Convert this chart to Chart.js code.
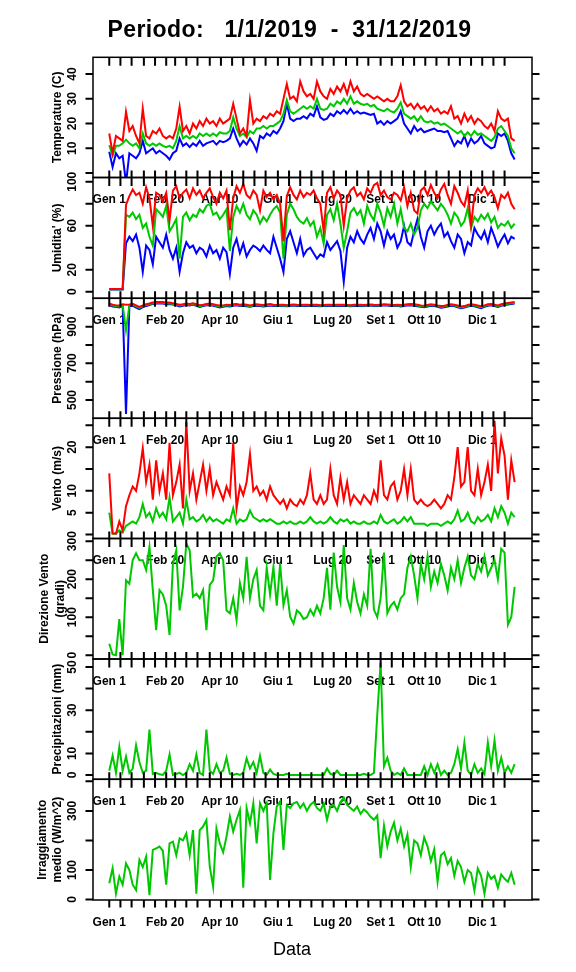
<!DOCTYPE html>
<html>
<head>
<meta charset="utf-8">
<script src="https://cdn.jsdelivr.net/npm/chart.js@4.4.1/dist/chart.umd.min.js"></script>
<style>
html,body{margin:0;padding:0;background:#fff;}
#page{position:relative;width:576px;height:972px;overflow:hidden;background:#fff;}
#page canvas{position:absolute;left:0;}
</style>
</head>
<body>
<div id="page"></div>
<script>
// ---- DATA (day offset from 1 Jan 2019, sampled every 3 days) ----
const days = [0,3,6,9,12,15,18,21,24,27,
30,33,36,39,42,45,48,51,54,57,
60,63,66,69,72,75,78,81,84,87,
90,93,96,99,102,105,108,111,114,117,
120,123,126,129,132,135,138,141,144,147,
150,153,156,159,162,165,168,171,174,177,
180,183,186,189,192,195,198,201,204,207,
210,213,216,219,222,225,228,231,234,237,
240,243,246,249,252,255,258,261,264,267,
270,273,276,279,282,285,288,291,294,297,
300,303,306,309,312,315,318,321,324,327,
330,333,336,339,342,345,348,351,354,357,
360,363];

const tempMax = [16,8,15,14,13,24.8,17,19,15,12,
26,15,14,17,16,18,15,14,15,14,
18,26.8,17,19,16,20,18,21,19,22,
20,21,19,22,20,21,22,28,22,16,
18,15,29.5,20,22,21,23,22,24,23,
25,24,30,36,30,31,29,37,33,31,
32,30,37,33,31,30,34,32,35,33,
36,32,37,33,35,32,31,32,31,30,
31,30,29,30,29,29,31,35.5,29,27,
28,26,28,26,27,25,27,25,26,24,
25,24,27,22,23,20,24,21,23,20,
22,21,19,18,20,17,25,22,21,22,
14,13];
const tempMean = [11.3,7,11,11,12,13.5,12,11,12,10,
16,12,11,12,11,12,11,10.5,11,10,
13,19,14,15,14,15,14,16,15,16,
15,16,15,16.5,16,16,17,22.5,18,15,
16,14.5,17,16,18,18,19,18,19,19,
20,21,24,29.5,25,24,25,26,27,26,
27,26,30,26,25.5,26,28,27,29,28,
30,28,31,28,29,28,27.5,28,27,27.5,
26,25.5,25,26,25,24.5,26,28.5,24,23,
22,23,21,23,21,20.5,21,20,20.5,19.5,
20,19,18,17,16,17,15,16.5,15,17,
15.5,16,15,14,13,14.5,18,19,17,15,
10,8];
const tempMin = [8.6,2.4,8,6,7,-4,8,7,6,8,
13,8,9,10,8,9,8,7,5.5,8,
9,14,11,12,10.5,12,11,13,11,12,
12.5,13,11.5,13,12.5,13,14,18,14,11,
13,11.5,14,12,9,15,14,16,15,17,
16,18,21,28,22,21,22,22,23,22,
24,23,27,22.5,21.5,22,24,23,25,24,
25.5,24,26,24,25,24,24.5,24,23.5,24,
20,21,19.5,21,20,21,22,25,20,18,
16,19,17,18,16.5,17,17.5,18,17,17,
16.5,17,14,11,13,12,15,11,14,12,
13,15,12,11,10,10.5,16,15,16,13,
8,5.5];

const humMax = [2.5,2.5,2.5,2.5,2.5,79,87,93,88,90,
80,95,85,60,90,88,82,90,65,92,
96,85,90,93,85,94,88,92,85,90,
94,86,80,90,85,92,56,85,96,90,
98,88,85,92,88,74,92,86,90,84,
88,80,46,87,95,88,84,92,86,90,
88,92,85,80,55,90,95,85,92,88,
60,85,92,95,87,90,84,94,90,97,
99,88,92,86,84,90,88,83,95,78,
90,74,71,92,95,88,97,90,85,93,
98,88,80,96,90,82,78,92,60,88,
94,90,95,88,92,86,76,88,85,90,
80,75];
const humMean = [2.2,2.2,2.2,2.2,2.2,70,68,72,66,70,
58,62,50,42,75,72,68,78,55,60,
66,30,68,72,65,70,68,75,72,78,
80,70,72,66,70,75,37,68,78,72,
80,70,66,74,70,62,68,64,70,75,
78,72,30,70,80,75,68,64,62,67,
60,64,50,58,44,70,75,65,80,62,
40,55,72,76,70,74,62,78,70,65,
80,72,60,76,68,80,62,75,58,55,
62,52,58,74,80,76,82,78,74,80,
76,70,62,72,68,60,64,76,58,68,
64,70,66,71,63,68,58,62,60,64,
58,62];
const humMin = [2,2,2,2,2,44,50,46,52,40,
18,42,38,25,50,45,40,52,38,30,
40,18,35,45,40,42,35,40,38,32,
42,35,38,30,40,36,16,40,48,35,
44,32,38,42,40,37,42,38,35,50,
40,30,18,48,55,45,35,48,33,38,
40,35,30,34,32,45,38,42,46,37,
9,40,50,45,55,48,44,52,58,48,
62,55,42,55,48,52,40,46,60,45,
42,55,66,50,40,55,60,52,58,62,
50,54,46,40,52,48,35,45,42,58,
52,48,55,45,58,50,41,47,52,44,
50,48];

const presMax = [1026,1020,1016,1015,1022,1020,1021,1024,1016,1008,
1016,1022,1026,1032,1034,1035,1034,1030,1032,1028,
1024,1020,1022,1026,1024,1028,1022,1017,1020,1024,
1026,1022,1018,1015,1016,1020,1018,1022,1024,1020,
1022,1019,1016,1020,1022,1020,1018,1021,1023,1020,
1018,1020,1019,1017,1019,1021,1019,1018,1020,1019,
1018,1020,1019,1017,1018,1020,1019,1018,1019,1020,
1019,1018,1017,1019,1020,1019,1018,1020,1021,1019,
1018,1020,1022,1021,1019,1018,1020,1018,1019,1022,
1024,1022,1019,1016,1014,1018,1022,1020,1016,1013,
1014,1018,1022,1020,1015,1010,1012,1018,1022,1019,
1015,1011,1016,1022,1024,1020,1016,1022,1026,1029,
1032,1034];
const presMean = [1022,1015,1012,1010,1018,880,1016,1020,1010,1002,
1012,1018,1022,1028,1030,1032,1030,1026,1028,1024,
1020,1015,1018,1022,1020,1024,1018,1012,1016,1020,
1022,1018,1014,1010,1012,1016,1014,1018,1020,1016,
1018,1015,1012,1016,1018,1016,1014,1017,1019,1016,
1015,1017,1015,1014,1016,1018,1016,1015,1017,1016,
1015,1017,1016,1014,1015,1017,1016,1015,1016,1017,
1016,1015,1014,1016,1017,1016,1015,1017,1018,1016,
1015,1017,1019,1018,1016,1015,1017,1014,1016,1019,
1020,1018,1015,1012,1010,1014,1018,1016,1012,1008,
1010,1014,1018,1016,1010,1005,1008,1014,1018,1015,
1010,1006,1012,1018,1020,1016,1012,1018,1022,1025,
1028,1030];
const presMin = [1018,1010,1008,1005,1013,424,1011,1015,1004,996,
1007,1013,1018,1024,1026,1028,1026,1022,1024,1020,
1016,1010,1014,1018,1016,1020,1013,1007,1012,1016,
1018,1014,1010,1005,1008,1012,1010,1014,1016,1012,
1014,1011,1008,1012,1014,1012,1010,1013,1015,1012,
1012,1014,1012,1011,1013,1015,1013,1012,1014,1013,
1012,1014,1013,1011,1012,1014,1013,1012,1013,1014,
1013,1012,1011,1013,1014,1013,1012,1014,1015,1013,
1012,1014,1016,1015,1013,1012,1014,1010,1013,1016,
1016,1014,1011,1008,1006,1010,1014,1012,1008,1003,
1006,1010,1014,1012,1005,1000,1004,1010,1014,1011,
1005,1001,1008,1014,1016,1012,1008,1014,1018,1021,
1024,1026];

const windMax = [14,0.3,0.2,3,1,6.5,9,11,10,14,
19.7,12,16,8,17,10,14,8,21,9,
12,16,6,25.8,10,14,8,12,16,10,
15,9,12,10,8,11,9,21,6,11,
9,12,18.4,10,11,9,10,8,11,9,
8,7,8,6,8,7,6.5,8,7,9,
14,8,7,9,7,8,15,9,7,13,
8,12,7,9,8,7,9,8,7,10,
8,17,9,8,11,12,8,10,15,9,
15,8,7,8,7,6.5,7,8,7,6,
7,9,8,13,20,11,12,20,10,9,
15,9,12,16,10,26,14,22,18,8,
17,12];
const windMean = [5,0.2,0.2,1,0.5,2,2.5,3,2.5,4,
7,4,5,3,6,4,5,3.5,8.5,3,
4,5,2.5,8,3.5,4,3,3.5,4.5,3,
4,3,3.5,3,2.5,3.5,3,6,2.5,3.5,
3,3.5,5.5,4,3.5,3,3.5,3,3.5,3,
2.5,2.5,3,2.5,3,2.5,2.5,3,2.5,3,
4,3,2.5,3,2.5,3,4,3,2.5,3.5,
3,3.5,2.5,3,2.5,2.5,3,2.5,2.5,3,
2.5,4.5,3,2.5,3,3.5,2.5,3,4,3,
4,2.5,2.5,2.5,2.5,2,2.5,2.5,2.5,2,
2.5,3,2.5,3.5,5.5,3,3.5,5,3,2.5,
4,3,3.5,4.5,3,6,4,6.5,5,2.5,
5,4];

const windDir = [30,2,0,95,0,197,188,250,268,250,
250,224,285,171,66,171,160,130,53,241,
276,118,180,294,276,154,162,150,171,66,
185,197,259,268,250,118,110,150,92,190,
150,259,150,200,224,130,118,230,160,232,
130,241,132,171,101,83,118,110,95,100,
120,105,130,110,150,230,120,270,180,140,
290,150,120,190,140,110,160,130,280,120,
100,150,270,110,130,140,120,150,160,230,
260,210,150,240,200,260,180,220,190,240,
210,170,230,200,250,190,230,260,210,200,
240,220,260,210,230,250,200,280,270,80,
100,180];

const rain = [2,9,1,13,2,8.5,1,3,13.7,6,
1,2,21,0.5,1,0.3,0,2,9.5,0,
0.5,1,0,1,5,2,9.5,1,0,21,
2,0.5,5,1,2,8,0.5,0,0.5,0,
1,7.7,3,6,1,8.8,1,0,2.5,0.5,
0,0,0,0.5,0,0,0,0,0,0,
0,0,0,0,0,3,0.5,0,2,0,
0,0,0,0,0,0,0.5,0,0,1,
28,52,4,8,2,0,1,0,3,0,
0,0,0,0,4,0,5,1,5,0,
2,0,1,5,12,3,15,2,0,5,
1,3,0.5,15,4,16,2,8,1,4,
1,5];

const solar = [55,106,20,78,50,122,100,50,32,134,
110,145,15,168,173,179,165,50,190,196,
150,207,200,224,150,235,20,235,247,269,
111,43,240,190,160,213,281,230,270,303,
40,309,258,326,190,326,300,326,66,224,
315,332,168,320,310,326,330,310,325,300,
320,330,310,300,325,270,315,320,300,330,
345,320,310,300,315,290,305,295,280,270,
285,140,250,180,230,260,200,240,180,220,
110,200,190,150,210,180,130,170,60,150,
160,120,140,80,130,110,60,100,90,30,
105,80,20,90,70,80,40,85,70,60,
90,50];

// tick marks: 1st, 11th, 21st of each month (day offsets)
const xTickDays = [0,10,20,31,41,51,59,69,79,90,100,110,120,130,140,151,161,171,
181,191,201,212,222,232,243,253,263,273,283,293,304,314,324,334,344,354];
const xLabelDays = [0,50,99,151,200,243,282,334];
const xLabels = ['Gen 1','Feb 20','Apr 10','Giu 1','Lug 20','Set 1','Ott 10','Dic 1'];

const titleText = 'Periodo:   1/1/2019  -  31/12/2019';
const xTitle = 'Data';

// ---- LAYOUT / STYLE ----
const FONT = '"Liberation Sans", Arial, Helvetica, sans-serif';
const RED = '#ff0000', GREEN = '#00c800', BLUE = '#0000ff';
const PLOT_LEFT = 93, PLOT_RIGHT = 532, PAGE_W = 576, PAGE_H = 972;
const EDGES = [57.3, 177.5, 298.3, 418.3, 538.5, 659, 779.3, 900];
const X_MIN = -14.56, X_MAX = 378.56;

const panels = [
  { title: ['Temperature (C)'], titleX: [58], yMin: -1.8, yMax: 46.8,
    yTicks: [0,10,20,30,40], yLabels: [10,20,30,40],
    series: [[tempMax, RED], [tempMean, GREEN], [tempMin, BLUE]] },
  { title: ["Umidita' (%)"], titleX: [58], yMin: -6, yMax: 103.9,
    yTicks: [0,20,40,60,80,100], yLabels: [0,20,60,100],
    series: [[humMax, RED], [humMean, GREEN], [humMin, BLUE]] },
  { title: ['Pressione (hPa)'], titleX: [58], yMin: 400, yMax: 1054.6,
    yTicks: [500,600,700,800,900,1000], yLabels: [500,700,900],
    series: [[presMax, RED], [presMean, GREEN], [presMin, BLUE]] },
  { title: ['Vento (m/s)'], titleX: [58], yMin: -0.9, yMax: 26.6,
    yTicks: [0,5,10,15,20,25], yLabels: [5,10,20],
    series: [[windMax, RED], [windMean, GREEN]] },
  { title: ['Direzione Vento', '(gradi)'], titleX: [45, 61], yMin: -10, yMax: 307,
    yTicks: [0,50,100,150,200,250,300], yLabels: [0,100,200,300],
    series: [[windDir, GREEN]] },
  { title: ['Precipitazioni (mm)'], titleX: [58], yMin: -2, yMax: 53.7,
    yTicks: [0,10,20,30,40,50], yLabels: [0,10,30,50],
    series: [[rain, GREEN]] },
  { title: ['Irraggiamento', 'medio (W/m^2)'], titleX: [43, 57.5], yMin: -1.7, yMax: 407,
    yTicks: [0,100,200,300,400], yLabels: [0,100,300],
    series: [[solar, GREEN]] }
];

function makeDecor(p, idx, last) {
  return {
    id: 'decor' + idx,
    beforeDatasetsDraw(chart) {
      const ctx = chart.ctx, a = chart.chartArea, xs = chart.scales.x;
      ctx.save();
      ctx.fillStyle = '#000';
      ctx.font = 'bold 12px ' + FONT;
      ctx.textAlign = 'center';
      ctx.textBaseline = 'middle';
      if (idx > 0) {
        xLabelDays.forEach((d, i) => ctx.fillText(xLabels[i], xs.getPixelForValue(d), a.top + 22.5));
      }
      ctx.restore();
    },
    afterDraw(chart) {
      const ctx = chart.ctx, a = chart.chartArea, xs = chart.scales.x, ys = chart.scales.y;
      ctx.save();
      ctx.strokeStyle = '#000';
      ctx.fillStyle = '#000';
      // x ticks
      ctx.lineWidth = 2;
      ctx.beginPath();
      xTickDays.forEach(d => {
        const px = xs.getPixelForValue(d);
        ctx.moveTo(px, a.top); ctx.lineTo(px, a.top + 8.5);
        if (last) { ctx.moveTo(px, a.bottom); ctx.lineTo(px, a.bottom + 7.5); }
        else { ctx.moveTo(px, a.bottom - 7); ctx.lineTo(px, a.bottom); }
      });
      // y ticks left & right
      p.yTicks.forEach(v => {
        const py = ys.getPixelForValue(v);
        ctx.moveTo(a.left - 7.5, py); ctx.lineTo(a.left, py);
        ctx.moveTo(a.right, py); ctx.lineTo(a.right + 7.5, py);
      });
      ctx.stroke();
      // box
      ctx.lineWidth = 1.5;
      ctx.strokeRect(a.left, a.top, a.right - a.left, a.bottom - a.top);
      // y tick labels (rotated)
      ctx.font = 'bold 12px ' + FONT;
      ctx.textAlign = 'center';
      ctx.textBaseline = 'middle';
      p.yLabels.forEach(v => {
        const py = ys.getPixelForValue(v);
        ctx.save(); ctx.translate(72.5, py); ctx.rotate(-Math.PI / 2);
        ctx.fillText(String(v), 0, 0); ctx.restore();
      });
      // y title
      const cy = (a.top + a.bottom) / 2;
      p.title.forEach((t, i) => {
        ctx.save(); ctx.translate(p.titleX[i], cy); ctx.rotate(-Math.PI / 2);
        ctx.fillText(t, 0, 0); ctx.restore();
      });
      // bottom labels and x title
      if (last) {
        xLabelDays.forEach((d, i) => ctx.fillText(xLabels[i], xs.getPixelForValue(d), a.bottom + 22.5));
        ctx.font = '18px ' + FONT;
        ctx.textBaseline = 'alphabetic';
        ctx.fillText(xTitle, 292, a.bottom + 55);
      }
      if (idx === 0) {
        ctx.font = 'bold 23px ' + FONT;
        ctx.textBaseline = 'alphabetic';
        try { ctx.letterSpacing = '0.4px'; } catch (e) {}
        ctx.fillText(titleText, 289.5, a.top - 20.6);
      }
      ctx.restore();
    }
  };
}

const page = document.getElementById('page');
panels.forEach((p, idx) => {
  const last = idx === panels.length - 1;
  const top = EDGES[idx], bottom = EDGES[idx + 1];
  const cTop = idx === 0 ? 0 : Math.floor(top) - 30;
  const cBottom = last ? PAGE_H : Math.ceil(bottom) + 30;
  const canvas = document.createElement('canvas');
  canvas.width = PAGE_W; canvas.height = cBottom - cTop;
  canvas.style.top = cTop + 'px';
  canvas.style.width = PAGE_W + 'px'; canvas.style.height = (cBottom - cTop) + 'px';
  page.appendChild(canvas);
  const datasets = p.series.map(([vals, color]) => ({
    data: days.map((d, i) => ({ x: d, y: vals[i] })),
    borderColor: color, backgroundColor: color,
    borderWidth: 2, pointRadius: 0, tension: 0, fill: false
  }));
  new Chart(canvas, {
    type: 'line',
    data: { datasets },
    options: {
      responsive: false, animation: false, events: [], devicePixelRatio: 1,
      parsing: false, normalized: true,
      layout: { padding: { left: PLOT_LEFT, right: PAGE_W - PLOT_RIGHT,
        top: top - cTop, bottom: cBottom - bottom } },
      scales: {
        x: { type: 'linear', min: X_MIN, max: X_MAX, display: false },
        y: { type: 'linear', min: p.yMin, max: p.yMax, display: false }
      },
      plugins: { legend: { display: false }, tooltip: { enabled: false } }
    },
    plugins: [makeDecor(p, idx, last)]
  });
});
</script>
</body>
</html>
